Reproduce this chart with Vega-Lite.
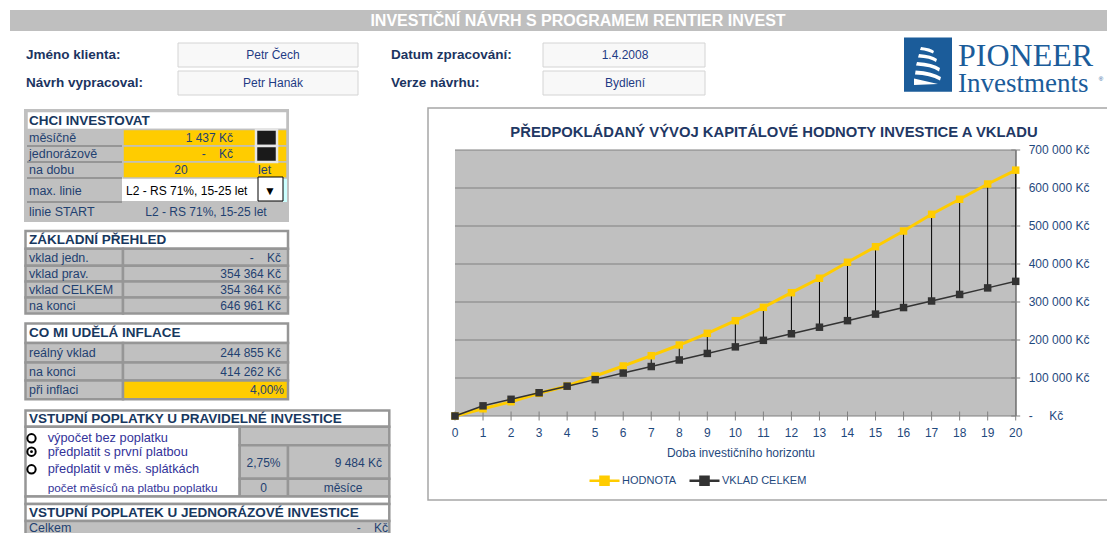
{
  "$schema": "https://vega.github.io/schema/vega-lite/v6.json",
  "width": 560.7,
  "height": 266,
  "autosize": {"type": "none"},
  "padding": {"left": 455, "top": 150, "right": 91.3, "bottom": 117},
  "background": "white",
  "config": {"font": "Liberation Sans", "view": {"stroke": null}},
  "datasets": {
    "rects": [
      {"x0": 1, "x1": 23, "y0": 1, "y1": 2, "k": "banner"},
      {"x0": 21, "x1": 22, "y0": 3, "y1": 7, "k": "logo"},
      {"x0": 7, "x1": 16, "y0": 4, "y1": 5, "k": "infobox"},
      {"x0": 19, "x1": 20, "y0": 4, "y1": 5, "k": "infobox"},
      {"x0": 7, "x1": 16, "y0": 6, "y1": 8, "k": "infobox"},
      {"x0": 19, "x1": 20, "y0": 6, "y1": 8, "k": "infobox"},
      {"x0": 18, "x1": 24, "y0": 9, "y1": 36, "k": "chartbox"},
      {"x0": 2, "x1": 15, "y0": 10, "y1": 19, "k": "frame1"},
      {"x0": 5, "x1": 12, "y0": 15, "y1": 17, "k": "drop"},
      {"x0": 12, "x1": 13, "y0": 15, "y1": 18, "k": "cyan"},
      {"x0": 4, "x1": 13, "y0": 11, "y1": 12, "k": "hdr1"},
      {"x0": 6, "x1": 13, "y0": 12, "y1": 13, "k": "yel1"},
      {"x0": 6, "x1": 13, "y0": 13, "y1": 14, "k": "yel1"},
      {"x0": 6, "x1": 13, "y0": 14, "y1": 16, "k": "yel1"},
      {"x0": 9, "x1": 11, "y0": 12, "y1": 13, "k": "button"},
      {"x0": 9, "x1": 11, "y0": 13, "y1": 14, "k": "button"},
      {"x0": 10, "x1": 12, "y0": 15, "y1": 17, "k": "arrowbox"},
      {"x0": 3, "x1": 14, "y0": 20, "y1": 21, "k": "hdr"},
      {"x0": 3, "x1": 6, "y0": 21, "y1": 22, "k": "cell"},
      {"x0": 6, "x1": 14, "y0": 21, "y1": 22, "k": "cell"},
      {"x0": 3, "x1": 6, "y0": 22, "y1": 23, "k": "cell"},
      {"x0": 6, "x1": 14, "y0": 22, "y1": 23, "k": "cell"},
      {"x0": 3, "x1": 6, "y0": 23, "y1": 24, "k": "cell"},
      {"x0": 6, "x1": 14, "y0": 23, "y1": 24, "k": "cell"},
      {"x0": 3, "x1": 6, "y0": 24, "y1": 25, "k": "cell"},
      {"x0": 6, "x1": 14, "y0": 24, "y1": 25, "k": "cell"},
      {"x0": 3, "x1": 14, "y0": 26, "y1": 27, "k": "hdr"},
      {"x0": 3, "x1": 6, "y0": 27, "y1": 28, "k": "cell"},
      {"x0": 6, "x1": 14, "y0": 27, "y1": 28, "k": "cell"},
      {"x0": 3, "x1": 6, "y0": 28, "y1": 29, "k": "cell"},
      {"x0": 6, "x1": 14, "y0": 28, "y1": 29, "k": "cell"},
      {"x0": 3, "x1": 6, "y0": 29, "y1": 30, "k": "cell"},
      {"x0": 6, "x1": 14, "y0": 29, "y1": 30, "k": "yel"},
      {"x0": 3, "x1": 17, "y0": 31, "y1": 32, "k": "hdr"},
      {"x0": 3, "x1": 8, "y0": 32, "y1": 35, "k": "white"},
      {"x0": 8, "x1": 17, "y0": 32, "y1": 33, "k": "cell"},
      {"x0": 8, "x1": 14, "y0": 33, "y1": 34, "k": "cell"},
      {"x0": 14, "x1": 17, "y0": 33, "y1": 34, "k": "cell"},
      {"x0": 8, "x1": 14, "y0": 34, "y1": 35, "k": "cell"},
      {"x0": 14, "x1": 17, "y0": 34, "y1": 35, "k": "cell"},
      {"x0": 3, "x1": 17, "y0": 35, "y1": 37, "k": "white"},
      {"x0": 3, "x1": 17, "y0": 37, "y1": 38, "k": "hdr"},
      {"x0": 3, "x1": 17, "y0": 38, "y1": 39, "k": "cell"}
    ],
    "seps": [
      {"x0": 4, "x1": 5, "y0": 13, "y1": 13, "k": "sep"},
      {"x0": 4, "x1": 5, "y0": 14, "y1": 14, "k": "sep"},
      {"x0": 4, "x1": 5, "y0": 16, "y1": 16, "k": "sep"},
      {"x0": 4, "x1": 5, "y0": 18, "y1": 18, "k": "sep"}
    ],
    "texts": [
      {"t": "INVESTIČNÍ NÁVRH S PROGRAMEM RENTIER INVEST", "c": 19, "r": 1, "k": "banner"},
      {"t": "Jméno klienta:", "c": 1, "r": 2, "k": "ilabel"},
      {"t": "Datum zpracování:", "c": 18, "r": 2, "k": "ilabel"},
      {"t": "Návrh vypracoval:", "c": 1, "r": 5, "k": "ilabel"},
      {"t": "Verze návrhu:", "c": 18, "r": 5, "k": "ilabel"},
      {"t": "Petr Čech", "c": 12, "r": 2, "k": "ival"},
      {"t": "1.4.2008", "c": 20, "r": 2, "k": "ival"},
      {"t": "Petr Hanák", "c": 12, "r": 5, "k": "ival"},
      {"t": "Bydlení", "c": 20, "r": 5, "k": "ival"},
      {"t": "PIONEER", "c": 23, "r": 3, "k": "logo1"},
      {"t": "Investments", "c": 23, "r": 6, "k": "logo2"},
      {"t": "®", "c": 24, "r": 4, "k": "logoreg"},
      {"t": "PŘEDPOKLÁDANÝ VÝVOJ KAPITÁLOVÉ HODNOTY INVESTICE A VKLADU", "c": 21, "r": 8, "k": "ctitle"},
      {"t": "CHCI INVESTOVAT", "c": 2, "r": 7, "k": "thead"},
      {"t": "ZÁKLADNÍ PŘEHLED", "c": 2, "r": 14, "k": "thead"},
      {"t": "CO MI UDĚLÁ INFLACE", "c": 2, "r": 19, "k": "thead"},
      {"t": "VSTUPNÍ POPLATKY U PRAVIDELNÉ INVESTICE", "c": 2, "r": 23, "k": "thead"},
      {"t": "VSTUPNÍ POPLATEK U JEDNORÁZOVÉ INVESTICE", "c": 2, "r": 29, "k": "thead"},
      {"t": "měsíčně", "c": 2, "r": 9, "k": "lab"},
      {"t": "jednorázově", "c": 2, "r": 10, "k": "lab"},
      {"t": "na dobu", "c": 2, "r": 11, "k": "lab"},
      {"t": "max. linie", "c": 2, "r": 12, "k": "lab"},
      {"t": "linie START", "c": 2, "r": 13, "k": "lab"},
      {"t": "vklad jedn.", "c": 2, "r": 15, "k": "lab"},
      {"t": "vklad prav.", "c": 2, "r": 16, "k": "lab"},
      {"t": "vklad CELKEM", "c": 2, "r": 17, "k": "lab"},
      {"t": "na konci", "c": 2, "r": 18, "k": "lab"},
      {"t": "reálný vklad", "c": 2, "r": 20, "k": "lab"},
      {"t": "na konci", "c": 2, "r": 21, "k": "lab"},
      {"t": "při inflaci", "c": 2, "r": 22, "k": "lab"},
      {"t": "Celkem", "c": 2, "r": 30, "k": "lab"},
      {"t": "let", "c": 9, "r": 11, "k": "lab"},
      {"t": "1 437 Kč", "c": 8, "r": 9, "k": "valr"},
      {"t": "-\u00a0\u00a0\u00a0\u00a0Kč", "c": 8, "r": 10, "k": "valr"},
      {"t": "-\u00a0\u00a0\u00a0\u00a0Kč", "c": 13, "r": 15, "k": "valr"},
      {"t": "354 364 Kč", "c": 13, "r": 16, "k": "valr"},
      {"t": "354 364 Kč", "c": 13, "r": 17, "k": "valr"},
      {"t": "646 961 Kč", "c": 13, "r": 18, "k": "valr"},
      {"t": "244 855 Kč", "c": 13, "r": 20, "k": "valr"},
      {"t": "414 262 Kč", "c": 13, "r": 21, "k": "valr"},
      {"t": "4,00%", "c": 14, "r": 22, "k": "valr"},
      {"t": "9 484 Kč", "c": 16, "r": 26, "k": "valr"},
      {"t": "-\u00a0\u00a0\u00a0\u00a0Kč", "c": 17, "r": 30, "k": "valr"},
      {"t": "20", "c": 6, "r": 11, "k": "valc"},
      {"t": "L2 - RS 71%, 15-25 let", "c": 7, "r": 13, "k": "valc"},
      {"t": "2,75%", "c": 10, "r": 26, "k": "valc"},
      {"t": "0", "c": 10, "r": 28, "k": "valc"},
      {"t": "měsíce", "c": 15, "r": 28, "k": "valc"},
      {"t": "L2 - RS 71%, 15-25 let", "c": 5, "r": 12, "k": "drop"},
      {"t": "▼", "c": 11, "r": 12, "k": "arrow"},
      {"t": "výpočet bez poplatku", "c": 4, "r": 24, "k": "radio"},
      {"t": "předplatit s první platbou", "c": 4, "r": 25, "k": "radio"},
      {"t": "předplatit v měs. splátkách", "c": 4, "r": 27, "k": "radio"},
      {"t": "počet měsíců na platbu poplatku", "c": 4, "r": 28, "k": "radiosm"}
    ],
    "radios": [
      {"c": 3, "r": 24, "sel": 0, "k": "radio"},
      {"c": 3, "r": 25, "sel": 1, "k": "radio"},
      {"c": 3, "r": 27, "sel": 0, "k": "radio"}
    ],
    "icon": [{"c": 22, "r": 3, "k": "logoicon"}],
    "grid": [
      {"g": 0, "lab": "-\u00a0\u00a0\u00a0\u00a0\u00a0Kč"},
      {"g": 100000, "lab": "100 000 Kč"},
      {"g": 200000, "lab": "200 000 Kč"},
      {"g": 300000, "lab": "300 000 Kč"},
      {"g": 400000, "lab": "400 000 Kč"},
      {"g": 500000, "lab": "500 000 Kč"},
      {"g": 600000, "lab": "600 000 Kč"},
      {"g": 700000, "lab": "700 000 Kč"}
    ],
    "series": [
      {"t": 0, "HODNOTA": 0, "VKLAD CELKEM": 0},
      {"t": 1, "HODNOTA": 19000, "VKLAD CELKEM": 26728},
      {"t": 2, "HODNOTA": 37600, "VKLAD CELKEM": 43972},
      {"t": 3, "HODNOTA": 59700, "VKLAD CELKEM": 61216},
      {"t": 4, "HODNOTA": 78900, "VKLAD CELKEM": 78460},
      {"t": 5, "HODNOTA": 105300, "VKLAD CELKEM": 95704},
      {"t": 6, "HODNOTA": 131600, "VKLAD CELKEM": 112948},
      {"t": 7, "HODNOTA": 158700, "VKLAD CELKEM": 130192},
      {"t": 8, "HODNOTA": 186800, "VKLAD CELKEM": 147436},
      {"t": 9, "HODNOTA": 217600, "VKLAD CELKEM": 164680},
      {"t": 10, "HODNOTA": 250800, "VKLAD CELKEM": 181924},
      {"t": 11, "HODNOTA": 286000, "VKLAD CELKEM": 199168},
      {"t": 12, "HODNOTA": 324500, "VKLAD CELKEM": 216412},
      {"t": 13, "HODNOTA": 362400, "VKLAD CELKEM": 233656},
      {"t": 14, "HODNOTA": 404500, "VKLAD CELKEM": 250900},
      {"t": 15, "HODNOTA": 445500, "VKLAD CELKEM": 268144},
      {"t": 16, "HODNOTA": 486800, "VKLAD CELKEM": 285388},
      {"t": 17, "HODNOTA": 530800, "VKLAD CELKEM": 302632},
      {"t": 18, "HODNOTA": 570300, "VKLAD CELKEM": 319876},
      {"t": 19, "HODNOTA": 610500, "VKLAD CELKEM": 337120},
      {"t": 20, "HODNOTA": 646961, "VKLAD CELKEM": 354364}
    ]
  },
  "layer": [
    {
      "data": {"name": "rects"},
      "encoding": {
        "x": {"field": "x0", "type": "quantitative", "axis": null,
              "scale": {"domain": [0,1,2,3,4,5,6,7,8,9,10,11,12,13,14,15,16,17,18,19,20,21,22,23,24],
                        "range": [-455,-445,-431,-429.5,-428,-333,-332,-277,-215.3,-199,-197,-178,-172,-168,-167,-166,-97,-65.7,-27,88,250,449,497,652,655],
                        "zero": false, "nice": false}},
        "x2": {"field": "x1"},
        "y": {"field": "y0", "type": "quantitative", "axis": null,
              "scale": {"domain": [0,1,2,3,4,5,6,7,8,9,10,11,12,13,14,15,16,17,18,19,20,21,22,23,24,25,26,27,28,29,30,31,32,33,34,35,36,37,38,39],
                        "range": [-150,-140,-119,-112.5,-107,-83,-79,-58.3,-55,-42,-41,-38.5,-20.5,-4,12,27,28,51,52,72,81,98.8,115.8,131.6,147.5,163.6,173.6,193,212.5,230.5,249.3,260.5,276.7,295.3,328.7,346.6,350,353.9,370.9,395],
                        "zero": false, "nice": false}},
        "y2": {"field": "y1"},
        "color": {"field": "k", "type": "nominal", "legend": null,
                  "scale": {"domain": ["banner","logo","frame1","drop","cyan","hdr1","yel1","hdr","cell","yel","white","button","arrowbox","infobox","chartbox","sep"],
                            "range": ["#BFBFBF","#1B5C9A","#C0C0C0","#FFFFFF","#CCFFFF","#FFFFFF","#FFCC00","#FFFFFF","#C0C0C0","#FFCC00","#FFFFFF","#1A1A1A","#FFFFFF","#F8F8F8","#FFFFFF","#969696"]}}
      },
      "layer": [
        {"transform": [{"filter": {"field": "k", "oneOf": ["chartbox"]}}],
         "mark": {"type": "rect", "stroke": "#A6A6A6", "strokeWidth": 1.5}},
        {"transform": [{"filter": {"field": "k", "oneOf": ["banner","logo","frame1","drop","cyan"]}}],
         "mark": {"type": "rect", "strokeWidth": 0}},
        {"transform": [{"filter": {"field": "k", "oneOf": ["hdr1","yel1"]}}],
         "mark": {"type": "rect", "stroke": "#C0C0C0", "strokeWidth": 1.5}},
        {"transform": [{"filter": {"field": "k", "oneOf": ["hdr","cell","yel","white"]}}],
         "mark": {"type": "rect", "stroke": "#969696", "strokeWidth": 2.5}},
        {"transform": [{"filter": {"field": "k", "oneOf": ["infobox"]}}],
         "mark": {"type": "rect", "stroke": "#D4D4D4", "strokeWidth": 1}},
        {"transform": [{"filter": {"field": "k", "oneOf": ["button"]}}],
         "mark": {"type": "rect", "stroke": "#E6E6E6", "strokeWidth": 2.5}},
        {"transform": [{"filter": {"field": "k", "oneOf": ["arrowbox"]}}],
         "mark": {"type": "rect", "stroke": "#000000", "strokeWidth": 1}},
        {"data": {"name": "seps"}, "mark": {"type": "rule", "strokeWidth": 2}}
      ]
    },
    {
      "data": {"name": "texts"},
      "encoding": {
        "x": {"field": "c", "type": "quantitative", "axis": null,
              "scale": {"domain": [0,1,2,3,4,5,6,7,8,9,10,11,12,13,14,15,16,17,18,19,20,21,22,23,24,25],
                        "range": [-455,-429,-426,-423.5,-407.3,-329,-274,-249,-222,-197,-191.5,-185,-182,-174,-171,-112,-73,-67,-64,123,170,319,473,503,646,652],
                        "zero": false, "nice": false}},
        "y": {"field": "r", "type": "quantitative", "axis": null,
              "scale": {"domain": [0,1,2,3,4,5,6,7,8,9,10,11,12,13,14,15,16,17,18,19,20,21,22,23,24,25,26,27,28,29,30,31],
                        "range": [-150,-129.5,-95,-84,-71,-67,-58.5,-29.5,-17,-12,4,20,40.5,62,90,107.5,124,139.5,155.5,182.5,203,221.5,239.5,268.5,288.3,301.7,312.5,319.3,337.5,362.5,377.5,383],
                        "zero": false, "nice": false}},
        "text": {"field": "t"},
        "color": {"field": "k", "type": "nominal", "legend": null,
                  "scale": {"domain": ["banner","ctitle","ilabel","ival","logo1","logo2","logoreg","thead","lab","valr","valc","drop","arrow","radio","radiosm","logoicon"],
                            "range": ["#FFFFFF","#1F3864","#1B3461","#1F3B84","#1B5C9A","#1B5C9A","#1B5C9A","#17375E","#1F4170","#1F4170","#1F4170","#000000","#000000","#333399","#333399","#FFFFFF"]}}
      },
      "layer": [
        {"transform": [{"filter": {"field": "k", "oneOf": ["banner"]}}],
         "mark": {"type": "text", "align": "center", "baseline": "middle", "fontWeight": "bold", "fontSize": 16}},
        {"transform": [{"filter": {"field": "k", "oneOf": ["ctitle"]}}],
         "mark": {"type": "text", "align": "center", "baseline": "middle", "fontWeight": "bold", "fontSize": 14.8}},
        {"transform": [{"filter": {"field": "k", "oneOf": ["ilabel"]}}],
         "mark": {"type": "text", "align": "left", "baseline": "middle", "fontWeight": "bold", "fontSize": 13.5}},
        {"transform": [{"filter": {"field": "k", "oneOf": ["thead"]}}],
         "mark": {"type": "text", "align": "left", "baseline": "middle", "fontWeight": "bold", "fontSize": 13.5}},
        {"transform": [{"filter": {"field": "k", "oneOf": ["lab"]}}],
         "mark": {"type": "text", "align": "left", "baseline": "middle", "fontSize": 12.5}},
        {"transform": [{"filter": {"field": "k", "oneOf": ["drop"]}}],
         "mark": {"type": "text", "align": "left", "baseline": "middle", "fontSize": 12}},
        {"transform": [{"filter": {"field": "k", "oneOf": ["radio"]}}],
         "mark": {"type": "text", "align": "left", "baseline": "middle", "fontSize": 12.8}},
        {"transform": [{"filter": {"field": "k", "oneOf": ["radiosm"]}}],
         "mark": {"type": "text", "align": "left", "baseline": "middle", "fontSize": 11.8}},
        {"transform": [{"filter": {"field": "k", "oneOf": ["valr"]}}],
         "mark": {"type": "text", "align": "right", "baseline": "middle", "fontSize": 12}},
        {"transform": [{"filter": {"field": "k", "oneOf": ["ival","valc","arrow"]}}],
         "mark": {"type": "text", "align": "center", "baseline": "middle", "fontSize": 12}},
        {"transform": [{"filter": {"field": "k", "oneOf": ["logo1"]}}],
         "mark": {"type": "text", "align": "left", "baseline": "alphabetic", "font": "Liberation Serif", "fontSize": 32}},
        {"transform": [{"filter": {"field": "k", "oneOf": ["logo2"]}}],
         "mark": {"type": "text", "align": "left", "baseline": "alphabetic", "font": "Liberation Serif", "fontSize": 27}},
        {"transform": [{"filter": {"field": "k", "oneOf": ["logoreg"]}}],
         "mark": {"type": "text", "align": "center", "baseline": "middle", "fontSize": 6}},
        {"data": {"name": "icon"},
         "mark": {"type": "point", "filled": true, "size": 1600, "opacity": 1, "strokeWidth": 0,
                  "shape": "M-0.35,-0.95Q0.15,-0.9 0.3,-0.75L0.25,-0.62Q0.05,-0.75 -0.4,-0.8ZM-0.45,-0.6Q0.2,-0.55 0.45,-0.35L0.4,-0.2Q0.1,-0.4 -0.5,-0.42ZM-0.55,-0.2Q0.25,-0.15 0.6,0.1L0.55,0.27Q0.15,0.02 -0.6,-0.02ZM-0.62,0.22Q0.25,0.28 0.65,0.55L0.6,0.72Q0.1,0.45 -0.65,0.42ZM-0.7,0.62L0.5,0.9L-0.7,0.95Z"},
         "encoding": {"text": null}},
        {"data": {"name": "radios"},
         "mark": {"type": "point", "shape": "circle", "filled": true, "size": 70, "stroke": "#000000", "strokeWidth": 2, "opacity": 1},
         "encoding": {"color": {"value": "#FFFFFF"}, "text": null}},
        {"data": {"name": "radios"},
         "transform": [{"filter": "datum.sel == 1"}],
         "mark": {"type": "point", "shape": "circle", "filled": true, "size": 8, "opacity": 1},
         "encoding": {"color": {"value": "#000000"}, "text": null}}
      ]
    },
    {"data": {"name": "series"},
     "mark": {"type": "rect", "fill": "#C0C0C0"},
     "encoding": {
       "x": {"datum": 0, "type": "quantitative", "axis": null, "scale": {"domain": [0, 20], "zero": false, "nice": false}},
       "x2": {"datum": 20},
       "y": {"datum": 0, "type": "quantitative", "axis": null, "scale": {"domain": [0, 700000], "zero": false, "nice": false}},
       "y2": {"datum": 700000}
     }},
    {"data": {"name": "grid"},
     "mark": {"type": "rule", "stroke": "#808080", "strokeWidth": 1},
     "encoding": {
       "x": {"datum": 0, "type": "quantitative", "axis": null, "scale": {"domain": [0, 20], "zero": false, "nice": false}},
       "x2": {"datum": 20},
       "y": {"field": "g", "type": "quantitative", "axis": null, "scale": {"domain": [0, 700000], "zero": false, "nice": false}}
     }},
    {"data": {"name": "grid"},
     "mark": {"type": "rule", "stroke": "#808080", "strokeWidth": 1},
     "encoding": {
       "x": {"datum": 20, "type": "quantitative", "axis": null, "scale": {"domain": [0, 20], "zero": false, "nice": false}},
       "y": {"datum": 0, "type": "quantitative", "axis": null, "scale": {"domain": [0, 700000], "zero": false, "nice": false}},
       "y2": {"datum": 700000}
     }},
    {"data": {"name": "grid"},
     "mark": {"type": "tick", "orient": "horizontal", "color": "#808080", "size": 9, "thickness": 1, "opacity": 1},
     "encoding": {
       "x": {"datum": 20, "type": "quantitative", "axis": null, "scale": {"domain": [0, 20], "zero": false, "nice": false}},
       "y": {"field": "g", "type": "quantitative", "axis": null, "scale": {"domain": [0, 700000], "zero": false, "nice": false}}
     }},
    {"data": {"name": "grid"},
     "mark": {"type": "text", "align": "left", "baseline": "middle", "dx": 13, "fontSize": 12, "color": "#1F497D"},
     "encoding": {
       "x": {"datum": 20, "type": "quantitative", "axis": null, "scale": {"domain": [0, 20], "zero": false, "nice": false}},
       "y": {"field": "g", "type": "quantitative", "axis": null, "scale": {"domain": [0, 700000], "zero": false, "nice": false}},
       "text": {"field": "lab"}
     }},
    {"data": {"name": "series"},
     "mark": {"type": "tick", "orient": "vertical", "color": "#808080", "size": 9, "thickness": 1, "opacity": 1},
     "encoding": {
       "x": {"field": "t", "type": "quantitative", "axis": null, "scale": {"domain": [0, 20], "zero": false, "nice": false}},
       "y": {"datum": 0, "type": "quantitative", "axis": null, "scale": {"domain": [0, 700000], "zero": false, "nice": false}}
     }},
    {"data": {"name": "series"},
     "mark": {"type": "text", "align": "center", "baseline": "middle", "dy": 17, "fontSize": 12, "color": "#1F497D"},
     "encoding": {
       "x": {"field": "t", "type": "quantitative", "axis": null, "scale": {"domain": [0, 20], "zero": false, "nice": false}},
       "y": {"datum": 0, "type": "quantitative", "axis": null, "scale": {"domain": [0, 700000], "zero": false, "nice": false}},
       "text": {"field": "t", "type": "quantitative"}
     }},
    {"data": {"values": [{"title": "Doba investičního horizontu"}]},
     "mark": {"type": "text", "align": "center", "baseline": "middle", "dy": 37, "fontSize": 12, "color": "#1F497D"},
     "encoding": {
       "x": {"datum": 10.2, "type": "quantitative", "axis": null, "scale": {"domain": [0, 20], "zero": false, "nice": false}},
       "y": {"datum": 0, "type": "quantitative", "axis": null, "scale": {"domain": [0, 700000], "zero": false, "nice": false}},
       "text": {"field": "title"}
     }},
    {"data": {"name": "series"},
     "mark": {"type": "rule", "stroke": "#000000", "strokeWidth": 1},
     "encoding": {
       "x": {"field": "t", "type": "quantitative", "axis": null, "scale": {"domain": [0, 20], "zero": false, "nice": false}},
       "y": {"field": "HODNOTA", "type": "quantitative", "axis": null, "scale": {"domain": [0, 700000], "zero": false, "nice": false}},
       "y2": {"field": "VKLAD CELKEM"}
     }},
    {"data": {"name": "series"},
     "mark": {"type": "line", "strokeWidth": 3},
     "encoding": {
       "x": {"field": "t", "type": "quantitative", "axis": null, "scale": {"domain": [0, 20], "zero": false, "nice": false}},
       "y": {"field": "HODNOTA", "type": "quantitative", "axis": null, "scale": {"domain": [0, 700000], "zero": false, "nice": false}},
       "color": {"datum": "HODNOTA", "type": "nominal",
                 "scale": {"domain": ["HODNOTA", "VKLAD CELKEM"], "range": ["#FFCC00", "#333333"]},
                 "legend": {"orient": "none", "legendX": 133, "legendY": 314, "direction": "horizontal", "title": null,
                            "symbolType": "M-1,0H1M-0.27,-0.27H0.27V0.27H-0.27ZM-0.15,-0.15H0.15V0.15H-0.15ZM-0.05,-0.05H0.05V0.05H-0.05Z", "symbolSize": 900, "symbolStrokeWidth": 2.5,
                            "labelFontSize": 11, "labelColor": "#1F497D", "labelOffset": 1, "columnPadding": 7, "padding": 0}}
     }},
    {"data": {"name": "series"},
     "mark": {"type": "point", "shape": "square", "filled": true, "size": 56, "opacity": 1},
     "encoding": {
       "x": {"field": "t", "type": "quantitative", "axis": null, "scale": {"domain": [0, 20], "zero": false, "nice": false}},
       "y": {"field": "HODNOTA", "type": "quantitative", "axis": null, "scale": {"domain": [0, 700000], "zero": false, "nice": false}},
       "color": {"datum": "HODNOTA", "type": "nominal", "legend": null,
                 "scale": {"domain": ["HODNOTA", "VKLAD CELKEM"], "range": ["#FFCC00", "#333333"]}}
     }},
    {"data": {"name": "series"},
     "mark": {"type": "line", "strokeWidth": 1.5},
     "encoding": {
       "x": {"field": "t", "type": "quantitative", "axis": null, "scale": {"domain": [0, 20], "zero": false, "nice": false}},
       "y": {"field": "VKLAD CELKEM", "type": "quantitative", "axis": null, "scale": {"domain": [0, 700000], "zero": false, "nice": false}},
       "color": {"datum": "VKLAD CELKEM", "type": "nominal", "legend": null,
                 "scale": {"domain": ["HODNOTA", "VKLAD CELKEM"], "range": ["#FFCC00", "#333333"]}}
     }},
    {"data": {"name": "series"},
     "mark": {"type": "point", "shape": "square", "filled": true, "size": 56, "opacity": 1},
     "encoding": {
       "x": {"field": "t", "type": "quantitative", "axis": null, "scale": {"domain": [0, 20], "zero": false, "nice": false}},
       "y": {"field": "VKLAD CELKEM", "type": "quantitative", "axis": null, "scale": {"domain": [0, 700000], "zero": false, "nice": false}},
       "color": {"datum": "VKLAD CELKEM", "type": "nominal", "legend": null,
                 "scale": {"domain": ["HODNOTA", "VKLAD CELKEM"], "range": ["#FFCC00", "#333333"]}}
     }}
  ],
  "resolve": {"scale": {"x": "independent", "y": "independent", "color": "independent"}}
}
